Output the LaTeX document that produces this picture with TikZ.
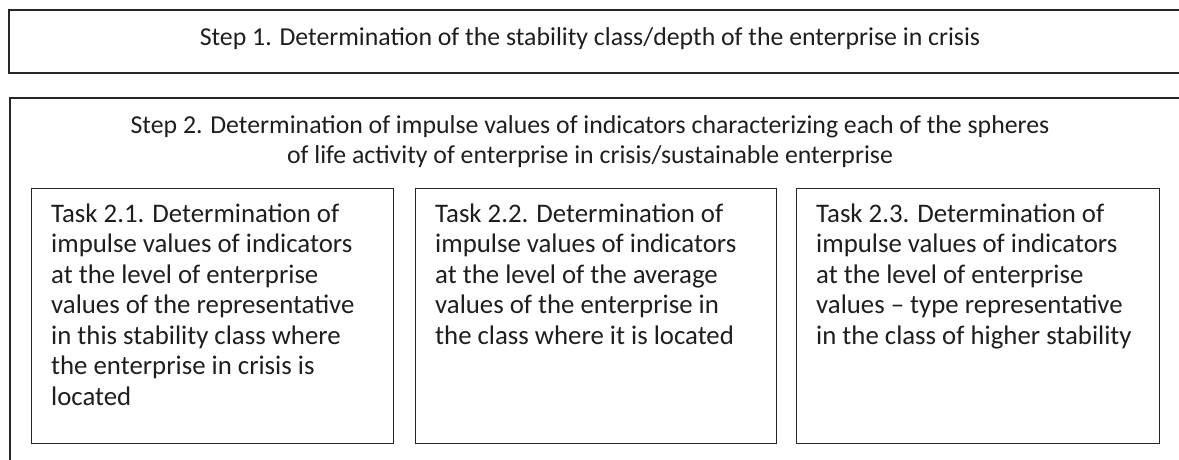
\documentclass[tikz,border=0pt]{standalone}
\usepackage{fontspec}
\setmainfont{Carlito}
\definecolor{linec}{HTML}{262626}
\definecolor{textc}{HTML}{1E1E1E}
\begin{document}
\begin{tikzpicture}[x=1pt,y=1pt,
  frame/.style={draw=linec,line width=1.3pt,fill=none},
  steptext/.style={text=textc,font=\fontsize{25.8}{30.5}\selectfont,inner sep=0pt,align=center},
  taskbox/.style={draw=linec,line width=1.3pt,anchor=north west,minimum width=362pt,minimum height=255pt,inner sep=0pt},
  tasktext/.style={text=textc,font=\fontsize{26.8}{30.5}\selectfont,inner sep=0pt,align=left,anchor=north west}]
\useasboundingbox (0,0) rectangle (1179,-459);
% Step 1
\draw[frame] (1195,-10) -- (9,-10) -- (9,-73) -- (1195,-73);
\node[steptext,anchor=base] (s1) at (590,-45) {Step 1. Determination of the stability class/depth of the enterprise in crisis};
% Step 2
\draw[frame] (1195,-98) -- (10,-98) -- (10,-470);
\node[steptext,anchor=north] (s2) at (590,-111.65) {\strut Step 2. Determination of impulse values of indicators characterizing each of the spheres\\of life activity of enterprise in crisis/sustainable enterprise};
% Tasks
\node[taskbox] (t1) at (31,-188) {};
\node[taskbox,minimum width=361pt] (t2) at (415,-188) {};
\node[taskbox,minimum width=363pt] (t3) at (796,-188) {};
\node[tasktext] (t1t) at (51,-200.65) {\strut Task 2.1. Determination of\\impulse values of indicators\\at the level of enterprise\\values of the representative\\in this stability class where\\the enterprise in crisis is\\located};
\node[tasktext] (t2t) at (435,-200.65) {\strut Task 2.2. Determination of\\impulse values of indicators\\at the level of the average\\values of the enterprise in\\the class where it is located};
\node[tasktext] (t3t) at (816,-200.65) {\strut Task 2.3. Determination of\\impulse values of indicators\\at the level of enterprise\\values -- type representative\\in the class of higher stability};
\end{tikzpicture}
\end{document}
